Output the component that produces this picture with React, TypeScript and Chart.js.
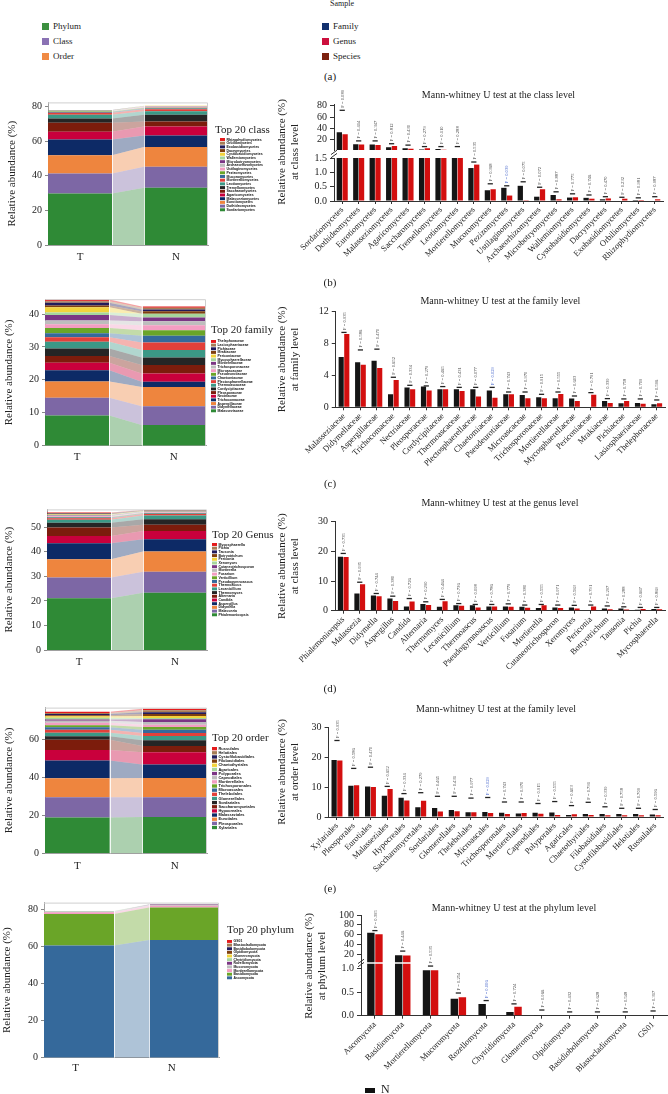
import React, { useEffect, useRef } from 'react';
import { Chart, registerables } from 'chart.js';
Chart.register(...registerables);

const SERIF = "'Liberation Serif', 'DejaVu Serif', serif";

// ---------------- data ----------------
const sampleLegend = ['Phylum', 'Class', 'Order', 'Family', 'Genus', 'Species'];
const sampleColors = ['#3c9040', '#8a72b4', '#f08a44', '#12306e', '#cc0f3d', '#7c210f'];

const classNames = ['Sordariomycetes', 'Dothideomycetes', 'Eurotiomycetes', 'Malasseziomycetes', 'Agaricomycetes', 'Saccharomycetes', 'Tremellomycetes', 'Leotiomycetes', 'Mortierellomycetes', 'Mucoromycetes', 'Pezizomycetes', 'Ustilaginomycetes', 'Archaeorhizomycetes', 'Microbotryomycetes', 'Wallemiomycetes', 'Cystobasidiomycetes', 'Dacrymycetes', 'Exobasidiomycetes', 'Orbiliomycetes', 'Rhizophydiomycetes'];
const classT = [29.8, 11.5, 10.6, 9.2, 4.4, 5.2, 2.5, 2.1, 1.27, 0.41, 0.19, 0.03, 0.41, 0.06, 0.13, 0.08, 0.09, 0.08, 0.035, 0.06];
const classN = [33.1, 12.1, 11.5, 6.7, 5.2, 2.9, 3.8, 2.1, 1.15, 0.375, 0.46, 0.53, 0.15, 0.21, 0.12, 0.11, 0.06, 0, 0.035, 0];
const classMark = [71.8, 18, 18, 13, 10.6, 8, 8, 8, 1.36, 0.6, 0.53, 0.67, 0.48, 0.32, 0.25, 0.21, 0.15, 0.13, 0.11, 0.15];
const classP = ['0.089', '0.414', '0.347', '0.812', '0.430', '0.279', '0.110', '0.288', '0.535', '0.368', '0.039', '0.075', '0.072', '0.887', '0.775', '0.746', '0.470', '0.232', '0.981', '0.987'];

const familyNames = ['Malasseziaceae', 'Didymellaceae', 'Aspergillaceae', 'Trichocomaceae', 'Nectriaceae', 'Pleosporaceae', 'Cordycipitaceae', 'Thermoascaceae', 'Plectosphaerellaceae', 'Chaetomiaceae', 'Pseudeurotiaceae', 'Microascaceae', 'Trichosporonaceae', 'Mortierellaceae', 'Mycosphaerellaceae', 'Periconiaceae', 'Mrakiaceae', 'Pichiaceae', 'Lasiosphaeriaceae', 'Thelephoraceae'];
const familyN = [6.3, 5.65, 5.85, 1.63, 2.5, 2.6, 2.26, 2.26, 2.26, 2.1, 1.63, 1.55, 1.25, 1.13, 1.09, 0, 0.8, 0.5, 0.54, 0.38];
const familyT = [9.2, 5.35, 4.94, 3.43, 2.26, 2.1, 2.26, 2.05, 1.34, 1.2, 1.63, 1.13, 1.13, 1.67, 0.8, 1.59, 0.54, 0.8, 0.46, 0.5];
const familyMark = [9.4, 7.2, 7.3, 3.77, 2.76, 2.68, 2.6, 2.5, 2.5, 2.5, 1.92, 1.92, 1.63, 1.92, 1.42, 1.84, 1.09, 1.05, 1.05, 0.92];
const familyP = ['0.935', '0.586', '0.470', '0.652', '0.334', '0.279', '0.465', '0.431', '0.077', '0.029', '0.743', '0.970', '0.915', '0.555', '0.603', '0.791', '0.339', '0.758', '0.709', '0.596'];

const genusNames = ['Phialemonioopsis', 'Malassezia', 'Didymella', 'Aspergillus', 'Candida', 'Alternaria', 'Thermomyces', 'Lecanicillium', 'Thermoascus', 'Pseudogymnoascus', 'Verticillium', 'Fusarium', 'Mortierella', 'Cutaneotrichosporon', 'Xeromyces', 'Periconia', 'Botryotrichum', 'Tausonia', 'Pichia', 'Mycosphaerella'];
const genusN = [18.2, 5.8, 5.1, 4.1, 1.4, 2.3, 1.3, 1.8, 1.8, 1.4, 1.4, 1.3, 0.9, 1.1, 1.1, 0, 0.7, 0.7, 0.35, 0.55];
const genusT = [18.1, 8.9, 4.9, 3.3, 3.1, 1.9, 3.2, 1.7, 1.1, 1.4, 1.3, 1.0, 1.8, 0.9, 0.7, 1.4, 0.45, 0.4, 0.6, 0.5];
const genusMark = [19.3, 9.6, 5.8, 4.9, 4.1, 3.0, 3.8, 2.4, 2.1, 2.1, 2.3, 1.9, 2.1, 1.9, 1.8, 1.9, 1.6, 1.3, 1.1, 1.1];
const genusP = ['0.735', '0.935', '0.744', '0.380', '0.726', '0.290', '0.464', '0.736', '0.098', '0.786', '0.779', '0.380', '0.555', '0.971', '0.563', '0.791', '0.297', '0.288', '0.667', '0.869'];
const genusStackT = [21.06, 8.44, 7.46, 6.54, 3.0, 3.4, 2.0, 1.2, 0.6, 0.3, 0.25, 0.25, 0.2, 0.2, 0.2, 0.2, 0.2, 0.2, 0.15, 0.15];
const genusStackN = [23.37, 8.53, 8.2, 5.0, 3.4, 2.5, 2.3, 1.5, 0.6, 0.25, 0.2, 0.2, 0.15, 0.15, 0.15, 0.15, 0.15, 0.1, 0.1, 0.1];

const orderNames = ['Xylariales', 'Pleosporales', 'Eurotiales', 'Malasseziales', 'Hypocreales', 'Saccharomycetales', 'Sordariales', 'Glomerellales', 'Thelebolales', 'Microascales', 'Trichosporonales', 'Mortierellales', 'Capnodiales', 'Polyporales', 'Agaricales', 'Chaetothyriales', 'Filobasidiales', 'Cystofilobasidiales', 'Helotiales', 'Russulales'];
const orderN = [19.0, 10.4, 10.2, 7.05, 6.4, 3.25, 3.0, 2.3, 1.6, 1.7, 1.4, 1.2, 1.4, 1.5, 0.7, 1.0, 1.0, 1.0, 1.0, 0.8];
const orderT = [18.8, 10.6, 10.0, 9.3, 5.5, 5.4, 1.8, 1.9, 1.6, 1.3, 1.0, 1.3, 1.1, 0.7, 0.9, 0.7, 0.6, 0.6, 0.6, 0.6];
const orderMark = [25.5, 16.2, 16.6, 10.2, 7.8, 8.1, 6.9, 6.9, 6.3, 6.5, 5.0, 5.0, 4.5, 5.15, 3.8, 4.9, 3.4, 2.9, 2.9, 2.5];
const orderP = ['0.935', '0.586', '0.470', '0.652', '0.334', '0.279', '0.465', '0.431', '0.977', '0.029', '0.743', '0.970', '0.915', '0.555', '0.603', '0.791', '0.339', '0.758', '0.709', '0.596'];

const phylumNames = ['Ascomycota', 'Basidiomycota', 'Mortierellomycota', 'Mucoromycota', 'Rozellomycota', 'Chytridiomycota', 'Glomeromycota', 'Olpidiomycota', 'Basidiobolomycota', 'Blastocladiomycota', 'GS01'];
const phylumN = [63.5, 17.5, 0.96, 0.36, 0.25, 0.08, 0.015, 0.01, 0, 0, 0];
const phylumT = [60.5, 17.0, 0.96, 0.39, 0.01, 0.19, 0, 0, 0.01, 0, 0];
const phylumMark = [68, 26, 1.05, 0.48, 0.32, 0.25, 0.12, 0.08, 0.08, 0.08, 0.1];
const phylumP = ['0.395', '0.446', '0.535', '0.254', '0.006', '0.724', '0.966', '0.432', '0.628', '0.548', '0.317'];

const ticksClassStack = [0, 20, 40, 60, 80];
const ticksFamilyStack = [0, 10, 20, 30, 40];
const ticksGenusStack = [0, 10, 20, 30, 40, 50];
const ticksOrderStack = [0, 20, 40, 60];
const ticksPhylumStack = [0, 20, 40, 60, 80];
const ticksClassTop = [20, 40, 60, 80];
const ticksClassBottom = [0, 0.5, 1.0, 1.5];
const ticksFamily = [0, 4, 8, 12];
const ticksGenus = [0, 10, 20, 30];
const ticksOrder = [0, 10, 20, 30];
const ticksPhylumTop = [20, 40, 60, 80, 100];
const ticksPhylumBottom = [0, 0.5, 1.0];

const palette = ['#2f8a36', '#7d67a5', '#ee853e', '#0d2a66', '#c9003c', '#7c1c0c', '#252525', '#3b9886', '#e3403a', '#35699b', '#6aa528', '#f39dc2', '#bdbdbd', '#7b3584', '#a6d69c', '#f2d33c', '#80400f', '#221b5b', '#a67c56', '#e41a1c'];
const phylumPalette = palette.slice(9);

// ---------------- helpers ----------------
function lighten(hex: string, a = 0.4) {
  const r = parseInt(hex.slice(1, 3), 16), g = parseInt(hex.slice(3, 5), 16), b = parseInt(hex.slice(5, 7), 16);
  return `rgba(${r},${g},${b},${a})`;
}

type Rect = { x: number; y: number; w: number; h: number };
type Area = { l: number; t: number; r: number; b: number };

function ChartCanvas({ rect, build }: { rect: Rect; build: () => any }) {
  const ref = useRef<HTMLCanvasElement | null>(null);
  useEffect(() => {
    if (!ref.current) return;
    const chart = new Chart(ref.current, build());
    return () => chart.destroy();
  }, []);
  return (
    <canvas
      ref={ref}
      width={rect.w}
      height={rect.h}
      style={{ position: 'absolute', left: rect.x, top: rect.y, width: rect.w, height: rect.h }}
    />
  );
}

function stackedChart(o: {
  names: string[]; tVals: number[]; nVals: number[]; colors: string[];
  yMax: number; yTicks: number[]; xTickPos: number[];
  rect: Rect; area: Area; yTitleX: number; xLabelY: number;
  lg: { title: string; tx: number; ty: number; sx: number; top: number; bottom: number };
}) {
  const lh = 13.2;
  const axisLeft = o.yTitleX - lh / 2;
  const yW = o.area.l - axisLeft;
  const xPad = o.xLabelY - 6.6 - o.area.b;
  const xH = xPad + 15;
  const padding = {
    left: axisLeft - o.rect.x,
    top: o.area.t - o.rect.y,
    right: o.rect.x + o.rect.w - o.area.r,
    bottom: o.rect.y + o.rect.h - o.area.b - xH,
  };
  const datasets = o.names.map((name, i) => {
    const strong = o.colors[i];
    const light = lighten(o.colors[i]);
    return {
      label: name,
      data: [
        { x: 0, y: o.tVals[i] }, { x: 2, y: o.tVals[i] },
        { x: 3, y: o.nVals[i] }, { x: 5, y: o.nVals[i] },
      ],
      backgroundColor: strong,
      borderColor: 'rgba(0,0,0,0)',
      borderWidth: 0,
      pointRadius: 0,
      pointHoverRadius: 0,
      tension: 0,
      fill: i === 0 ? 'origin' : '-1',
      segment: { backgroundColor: (c: any) => (c.p0DataIndex === 1 ? light : strong) },
    };
  });
  const rx = o.rect.x, ry = o.rect.y;
  const framePlugin = {
    id: 'frameSep',
    afterDatasetsDraw(chart: any) {
      const ctx = chart.ctx, a = chart.chartArea, xs = chart.scales.x;
      ctx.save();
      ctx.strokeStyle = 'rgba(255,255,255,0.85)';
      ctx.lineWidth = 1;
      for (const v of [2, 3]) {
        const px = Math.round(xs.getPixelForValue(v)) + 0.5;
        ctx.beginPath();
        ctx.moveTo(px, a.top);
        ctx.lineTo(px, a.bottom);
        ctx.stroke();
      }
      ctx.strokeStyle = '#cfcfcf';
      ctx.beginPath();
      ctx.moveTo(a.left, a.top + 0.5);
      ctx.lineTo(a.right - 0.5, a.top + 0.5);
      ctx.lineTo(a.right - 0.5, a.bottom);
      ctx.stroke();
      ctx.restore();
    },
  };
  const legendPlugin = {
    id: 'taxLegend',
    afterDraw(chart: any) {
      const ctx = chart.ctx;
      ctx.save();
      ctx.fillStyle = '#222';
      ctx.font = `11px ${SERIF}`;
      ctx.textBaseline = 'middle';
      ctx.textAlign = 'left';
      ctx.fillText(o.lg.title, o.lg.tx - rx, o.lg.ty - ry);
      const n = o.names.length;
      const step = (o.lg.bottom - o.lg.top) / n;
      for (let k = 0; k < n; k++) {
        const i = n - 1 - k;
        const y = o.lg.top - ry + k * step;
        ctx.fillStyle = o.colors[i];
        ctx.fillRect(o.lg.sx - rx, y, 5, step * 0.8);
        ctx.fillStyle = '#111';
        ctx.font = `bold ${(step * 0.95).toFixed(2)}px 'Liberation Sans', sans-serif`;
        ctx.fillText(o.names[i], o.lg.sx - rx + 6.5, y + step * 0.42);
      }
      ctx.restore();
    },
  };
  return {
    type: 'line',
    data: { datasets },
    options: {
      responsive: false,
      animation: false,
      devicePixelRatio: 1,
      events: [],
      layout: { padding },
      plugins: { legend: { display: false }, tooltip: { enabled: false }, title: { display: false } },
      scales: {
        x: {
          type: 'linear', min: 0, max: 5,
          afterBuildTicks: (s: any) => { s.ticks = o.xTickPos.map((v) => ({ value: v })); },
          ticks: {
            callback: (_v: any, i: number) => (i === 0 ? 'T' : 'N'),
            font: { family: SERIF, size: 11 }, color: '#222', padding: xPad, maxRotation: 0, autoSkip: false,
          },
          grid: { display: true, drawOnChartArea: false, drawTicks: false },
          border: { color: '#a0a0a0' },
          afterFit: (s: any) => { s.height = xH; },
        },
        y: {
          type: 'linear', stacked: true, min: 0, max: o.yMax,
          afterBuildTicks: (s: any) => { s.ticks = o.yTicks.map((v) => ({ value: v })); },
          ticks: { font: { family: SERIF, size: 10 }, color: '#222', padding: 3, autoSkip: false },
          grid: { display: true, drawOnChartArea: false, tickLength: 3, color: '#888' },
          border: { color: '#a0a0a0' },
          title: { display: true, text: 'Relative abundance (%)', font: { family: SERIF, size: 11 }, color: '#222', padding: 0 },
          afterFit: (s: any) => { s.width = yW; },
        },
      },
    },
    plugins: [framePlugin, legendPlugin],
  };
}

function barChart(o: {
  cats: string[]; nVals: number[]; tVals: number[]; marks: number[]; pvals: string[];
  rect: Rect; area: Area; yMin: number; yMax: number; yTicks: number[]; dec: number;
  showX: boolean; title?: { text: string; y: number }; yTitle?: { lines: string[]; x: number };
  catPct: number; extra?: any;
}) {
  const axisLeft = o.yTitle ? o.yTitle.x - 6.6 : o.area.l - 40;
  const yW = o.area.l - axisLeft;
  const padTop = o.title ? o.title.y - o.rect.y - 6 : o.area.t - o.rect.y;
  const titlePadBottom = o.title ? o.area.t - (o.title.y + 6) : 0;
  const xH = o.showX ? o.rect.y + o.rect.h - o.area.b : 0;
  const padBottom = o.showX ? 0 : o.rect.y + o.rect.h - o.area.b;
  const padding = { left: axisLeft - o.rect.x, top: padTop, right: o.rect.x + o.rect.w - o.area.r, bottom: padBottom };
  const annot = {
    id: 'pann',
    afterDatasetsDraw(chart: any) {
      const xs = chart.scales.x, ys = chart.scales.y, ctx = chart.ctx;
      ctx.save();
      for (let i = 0; i < o.cats.length; i++) {
        const m = o.marks[i];
        if (m < o.yMin || m > o.yMax) continue;
        const x = xs.getPixelForValue(i);
        const y = ys.getPixelForValue(m);
        ctx.strokeStyle = '#222';
        ctx.lineWidth = 1.3;
        ctx.beginPath();
        ctx.moveTo(x - 2.6, y);
        ctx.lineTo(x + 2.6, y);
        ctx.stroke();
        ctx.save();
        ctx.translate(x + 0.5, y - 2.5);
        ctx.rotate(-Math.PI / 2);
        ctx.textAlign = 'left';
        ctx.textBaseline = 'middle';
        ctx.font = `4.6px ${SERIF}`;
        ctx.fillStyle = parseFloat(o.pvals[i]) < 0.05 ? '#3a5cc8' : '#444';
        ctx.fillText('P = ' + o.pvals[i], 0, 0);
        ctx.restore();
      }
      ctx.restore();
    },
  };
  const plugins: any[] = [annot];
  if (o.extra) plugins.push(o.extra);
  return {
    type: 'bar',
    data: {
      labels: o.cats,
      datasets: [
        { label: 'N', data: o.nVals, backgroundColor: '#151515', clip: 0, categoryPercentage: o.catPct, barPercentage: 0.92 },
        { label: 'T', data: o.tVals, backgroundColor: '#d30f0f', clip: 0, categoryPercentage: o.catPct, barPercentage: 0.92 },
      ],
    },
    options: {
      responsive: false,
      animation: false,
      devicePixelRatio: 1,
      events: [],
      layout: { padding },
      plugins: {
        legend: { display: false },
        tooltip: { enabled: false },
        title: o.title
          ? { display: true, text: o.title.text, fullSize: false, font: { family: SERIF, size: 10, weight: 'normal', lineHeight: 1.2 }, color: '#222', padding: { top: 0, bottom: titlePadBottom } }
          : { display: false },
      },
      scales: {
        x: {
          type: 'category', offset: true, display: o.showX,
          ticks: { autoSkip: false, maxRotation: 45, minRotation: 45, font: { family: SERIF, size: 8.5 }, color: '#222', padding: 1 },
          grid: { display: true, drawOnChartArea: false, offset: false, tickLength: 3, color: '#333' },
          border: { color: '#333' },
          afterFit: (s: any) => { s.height = xH; },
        },
        y: {
          type: 'linear', min: o.yMin, max: o.yMax,
          afterBuildTicks: (s: any) => { s.ticks = o.yTicks.map((v) => ({ value: v })); },
          ticks: { font: { family: SERIF, size: 10 }, color: '#222', padding: 3, autoSkip: false, callback: (v: any) => Number(v).toFixed(o.dec) },
          grid: { display: true, drawOnChartArea: false, tickLength: 4, color: '#333' },
          border: { color: '#333' },
          title: o.yTitle
            ? { display: true, text: o.yTitle.lines, font: { family: SERIF, size: 11 }, color: '#222', padding: 0 }
            : { display: false },
          afterFit: (s: any) => { s.width = yW; },
        },
      },
    },
    plugins,
  };
}

function brokenExtras(rect: Rect, lines: string[], tx: number, ty: number, ax: number, gy: number) {
  return {
    id: 'brk',
    afterDraw(chart: any) {
      const ctx = chart.ctx;
      ctx.save();
      ctx.fillStyle = '#222';
      ctx.font = `11px ${SERIF}`;
      ctx.textAlign = 'center';
      ctx.textBaseline = 'middle';
      ctx.translate(tx - rect.x, ty - rect.y);
      ctx.rotate(-Math.PI / 2);
      lines.forEach((ln, k) => ctx.fillText(ln, 0, k * 13.2));
      ctx.restore();
      ctx.save();
      ctx.strokeStyle = '#333';
      ctx.lineWidth = 1;
      const x = ax - rect.x, y = gy - rect.y;
      for (const d of [-1.6, 1.6]) {
        ctx.beginPath();
        ctx.moveTo(x - 3, y + d + 2.2);
        ctx.lineTo(x + 3, y + d - 2.2);
        ctx.stroke();
      }
      ctx.restore();
    },
  };
}

// ---------------- layout ----------------
const leftRectB = { x: 0, y: 88, w: 300, h: 180 };
const leftRectC = { x: 0, y: 290, w: 300, h: 180 };
const leftRectD = { x: 0, y: 500, w: 300, h: 180 };
const leftRectE = { x: 0, y: 698, w: 300, h: 182 };
const leftRectF = { x: 0, y: 893, w: 300, h: 190 };
const rightRectB = { x: 240, y: 86, w: 428, h: 205 };
const rightRectC = { x: 240, y: 290, w: 428, h: 200 };
const rightRectD = { x: 240, y: 497, w: 428, h: 200 };
const rightRectE = { x: 240, y: 700, w: 428, h: 195 };
const rightRectF = { x: 240, y: 900, w: 428, h: 194 };

const abs = (x: number, y: number, extra: any = {}) => ({ position: 'absolute' as const, left: x, top: y, ...extra });

export default function App() {
  const panelLabel = (txt: string, y: number) => (
    <div style={abs(320, y - 7, { fontFamily: SERIF, fontSize: 11, color: '#222', lineHeight: '14px', width: 20, textAlign: 'center' })}>{txt}</div>
  );
  return (
    <div style={{ position: 'absolute', left: 0, top: 0, width: 668, height: 1094, background: '#fff', overflow: 'hidden', fontFamily: SERIF }}>
      {/* (a) legend */}
      <div style={abs(330, -1, { fontSize: 8, color: '#222', lineHeight: '10px' })}>Sample</div>
      {sampleLegend.map((name, i) => {
        const col = i < 3 ? 0 : 1;
        const row = i % 3;
        const x = col === 0 ? 42 : 322;
        const y = 26 + row * 15;
        return (
          <React.Fragment key={name}>
            <div style={abs(x, y - 3.5, { width: 7, height: 7, background: sampleColors[i] })} />
            <div style={abs(x + 11, y - 6, { fontSize: 9, color: '#222', lineHeight: '12px' })}>{name}</div>
          </React.Fragment>
        );
      })}
      {panelLabel('(a)', 76)}

      {/* (b) */}
      <ChartCanvas rect={leftRectB} build={() => stackedChart({
        names: classNames, tVals: classT, nVals: classN, colors: palette, yMax: 82.5, yTicks: ticksClassStack, xTickPos: [1, 4],
        rect: leftRectB, area: { l: 48, t: 102.4, r: 208, b: 245 }, yTitleX: 12, xLabelY: 257,
        lg: { title: 'Top 20 class', tx: 215, ty: 130, sx: 220, top: 138, bottom: 212 },
      })} />
      <ChartCanvas rect={rightRectB} build={() => barChart({
        cats: classNames, nVals: classN, tVals: classT, marks: classMark, pvals: classP,
        rect: rightRectB, area: { l: 334, t: 104.5, r: 663, b: 150 }, yMin: 2, yMax: 82, yTicks: ticksClassTop, dec: 0,
        showX: false, title: { text: 'Mann-whitney U test at the class level', y: 95 }, catPct: 0.7,
      })} />
      <ChartCanvas rect={rightRectB} build={() => barChart({
        cats: classNames, nVals: classN, tVals: classT, marks: classMark, pvals: classP,
        rect: rightRectB, area: { l: 334, t: 158, r: 663, b: 201 }, yMin: 0, yMax: 1.5, yTicks: ticksClassBottom, dec: 1,
        showX: true, catPct: 0.7,
        extra: brokenExtras(rightRectB, ['Relative abundance (%)', 'at class level'], 282, 152, 334, 154),
      })} />
      {panelLabel('(b)', 282)}

      {/* (c) */}
      <ChartCanvas rect={leftRectC} build={() => stackedChart({
        names: familyNames, tVals: familyT, nVals: familyN, colors: palette, yMax: 44.5, yTicks: ticksFamilyStack, xTickPos: [1, 4],
        rect: leftRectC, area: { l: 45, t: 299.2, r: 206, b: 445.7 }, yTitleX: 9, xLabelY: 456.7,
        lg: { title: 'Top 20 family', tx: 211, ty: 330, sx: 211, top: 340, bottom: 413 },
      })} />
      <ChartCanvas rect={rightRectC} build={() => barChart({
        cats: familyNames, nVals: familyN, tVals: familyT, marks: familyMark, pvals: familyP,
        rect: rightRectC, area: { l: 335.75, t: 311.7, r: 665, b: 407.3 }, yMin: 0, yMax: 12, yTicks: ticksFamily, dec: 0,
        showX: true, title: { text: 'Mann-whitney U test at the family level', y: 301 },
        yTitle: { lines: ['Relative abundance (%)', 'at family level'], x: 282 }, catPct: 0.68,
      })} />
      {panelLabel('(c)', 483)}

      {/* (d) */}
      <ChartCanvas rect={leftRectD} build={() => stackedChart({
        names: genusNames, tVals: genusStackT, nVals: genusStackN, colors: palette, yMax: 57.3, yTicks: ticksGenusStack, xTickPos: [1, 4],
        rect: leftRectD, area: { l: 47, t: 509.4, r: 207, b: 650 }, yTitleX: 9.3, xLabelY: 661.7,
        lg: { title: 'Top 20 Genus', tx: 212, ty: 535, sx: 212, top: 543, bottom: 617 },
      })} />
      <ChartCanvas rect={rightRectD} build={() => barChart({
        cats: genusNames, nVals: genusN, tVals: genusT, marks: genusMark, pvals: genusP,
        rect: rightRectD, area: { l: 335, t: 521.7, r: 665, b: 610.7 }, yMin: 0, yMax: 30, yTicks: ticksGenus, dec: 0,
        showX: true, title: { text: 'Mann-whitney U test at the genus level', y: 503 },
        yTitle: { lines: ['Relative abundance (%)', 'at class level'], x: 282 }, catPct: 0.68,
      })} />
      {panelLabel('(d)', 688)}

      {/* (e) */}
      <ChartCanvas rect={leftRectE} build={() => stackedChart({
        names: orderNames, tVals: orderT, nVals: orderN, colors: palette, yMax: 76.5, yTicks: ticksOrderStack, xTickPos: [1, 4],
        rect: leftRectE, area: { l: 45, t: 707.6, r: 207, b: 853.3 }, yTitleX: 9, xLabelY: 865.7,
        lg: { title: 'Top 20 order', tx: 212, ty: 738, sx: 212, top: 747, bottom: 830 },
      })} />
      <ChartCanvas rect={rightRectE} build={() => barChart({
        cats: orderNames, nVals: orderN, tVals: orderT, marks: orderMark, pvals: orderP,
        rect: rightRectE, area: { l: 328.6, t: 727, r: 663.6, b: 817 }, yMin: 0, yMax: 30, yTicks: ticksOrder, dec: 0,
        showX: true, title: { text: 'Mann-whitney U test at the family level', y: 709 },
        yTitle: { lines: ['Relative abundance (%)', 'at order level'], x: 282 }, catPct: 0.68,
      })} />
      {panelLabel('(e)', 888)}

      {/* (f) */}
      <ChartCanvas rect={leftRectF} build={() => stackedChart({
        names: phylumNames, tVals: phylumT, nVals: phylumN, colors: phylumPalette, yMax: 83.6, yTicks: ticksPhylumStack, xTickPos: [0.9, 3.65],
        rect: leftRectF, area: { l: 44, t: 902.6, r: 219, b: 1057.7 }, yTitleX: 7, xLabelY: 1068,
        lg: { title: 'Top 20 phylum', tx: 227, ty: 930, sx: 227, top: 940, bottom: 980 },
      })} />
      <ChartCanvas rect={rightRectF} build={() => barChart({
        cats: phylumNames, nVals: phylumN, tVals: phylumT, marks: phylumMark, pvals: phylumP,
        rect: rightRectF, area: { l: 361, t: 915, r: 667, b: 962.3 }, yMin: 3, yMax: 100, yTicks: ticksPhylumTop, dec: 0,
        showX: false, title: { text: 'Mann-whitney U test at the phylum level', y: 908 }, catPct: 0.58,
      })} />
      <ChartCanvas rect={rightRectF} build={() => barChart({
        cats: phylumNames, nVals: phylumN, tVals: phylumT, marks: phylumMark, pvals: phylumP,
        rect: rightRectF, area: { l: 361, t: 963.7, r: 667, b: 1015.7 }, yMin: 0, yMax: 1.1, yTicks: ticksPhylumBottom, dec: 1,
        showX: true, catPct: 0.58,
        extra: brokenExtras(rightRectF, ['Relative abundance (%)', 'at phylum level'], 309, 966, 361, 963),
      })} />
      <div style={abs(365, 1088, { width: 10, height: 5, background: '#111' })} />
      <div style={abs(381, 1082, { fontSize: 12, color: '#222', lineHeight: '14px' })}>N</div>
    </div>
  );
}
